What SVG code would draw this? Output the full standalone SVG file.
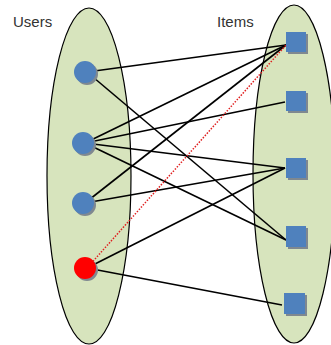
<svg xmlns="http://www.w3.org/2000/svg" width="331" height="345" viewBox="0 0 331 345">
<defs>
<style>
.set{fill:#d7e4bd;stroke:#000;stroke-width:1.2}
.u{fill:#4f81bd}
.r{fill:#ff0000}
.sh{fill:#7f8890}
.it{fill:#4f81bd}
.e{stroke:#000;stroke-width:1.6;fill:none}
.p{stroke:#e02020;stroke-width:1.5;stroke-dasharray:1.5 1.5;fill:none}
.lbl{font-family:"Liberation Sans",Arial,sans-serif;font-size:15px;fill:#333}
</style>
</defs>
<rect width="331" height="345" fill="#fff"/>
<g id="users-set"><ellipse class="set" cx="89" cy="176" rx="42" ry="168"/></g>
<g id="items-set"><ellipse class="set" cx="294" cy="174" rx="41" ry="169"/></g>
<text class="lbl" x="13" y="27">Users</text>
<text class="lbl" x="217" y="27">Items</text>
<g id="connectors">
<line class="e" x1="87" y1="72" x2="286" y2="45"/>
<line class="e" x1="87" y1="72" x2="286" y2="240"/>
<line class="e" x1="85" y1="143" x2="286" y2="45"/>
<line class="e" x1="85" y1="143" x2="285" y2="102"/>
<line class="e" x1="85" y1="143" x2="285" y2="168"/>
<line class="e" x1="85" y1="143" x2="286" y2="240"/>
<line class="e" x1="85" y1="203" x2="286" y2="45"/>
<line class="e" x1="85" y1="203" x2="285" y2="168"/>
<line class="e" x1="87" y1="268" x2="285" y2="168"/>
<line class="e" x1="87" y1="268" x2="282" y2="305"/>
<line class="p" x1="87" y1="268" x2="286" y2="45"/>
</g>
<g id="user1"><circle class="sh" cx="87" cy="74" r="11"/><circle class="u" cx="85" cy="72" r="11"/></g>
<g id="user2"><circle class="sh" cx="85" cy="145" r="11"/><circle class="u" cx="83" cy="143" r="11"/></g>
<g id="user3"><circle class="sh" cx="85" cy="205" r="11"/><circle class="u" cx="83" cy="203" r="11"/></g>
<g id="user4"><circle class="sh" cx="87" cy="270" r="11"/><circle class="r" cx="85" cy="268" r="11"/></g>
<g id="item1"><rect class="sh" x="288" y="34" width="20" height="20"/><rect class="it" x="286" y="32" width="20" height="20"/></g>
<g id="item2"><rect class="sh" x="288" y="93" width="20" height="20"/><rect class="it" x="286" y="91" width="20" height="20"/></g>
<g id="item3"><rect class="sh" x="288" y="160" width="20" height="20"/><rect class="it" x="286" y="158" width="20" height="20"/></g>
<g id="item4"><rect class="sh" x="288" y="228" width="20" height="21"/><rect class="it" x="286" y="226" width="20" height="21"/></g>
<g id="item5"><rect class="sh" x="286" y="295" width="21" height="21"/><rect class="it" x="284" y="293" width="21" height="21"/></g>
</svg>
